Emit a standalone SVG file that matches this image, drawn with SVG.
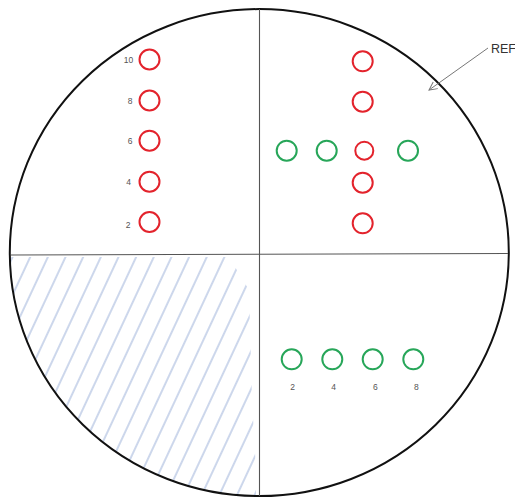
<svg xmlns="http://www.w3.org/2000/svg" width="515" height="498" viewBox="0 0 515 498">
<style>
.red{fill:none;stroke:#e3232c;stroke-width:2}
.grn{fill:none;stroke:#27a659;stroke-width:2}
.lbl{font-family:"Liberation Sans",Arial,sans-serif;font-size:8.5px;fill:#555;text-anchor:middle}
.ax{stroke:#555;stroke-width:1.1;fill:none}
</style>
<defs>
<pattern id="hatch" width="16" height="20" patternUnits="userSpaceOnUse" patternTransform="rotate(25)">
<line x1="8" y1="-5" x2="8" y2="25" stroke="#8fa6d4" stroke-width="0.9"/>
</pattern>
<clipPath id="circ"><ellipse cx="259.3" cy="252.6" rx="249.5" ry="243.5"/></clipPath>
<clipPath id="quad"><path d="M12 257 L229 257 L249 290 L252 400 L256 470 L256 498 L0 498 L0 257 Z"/></clipPath>
<marker id="ah" markerWidth="10" markerHeight="10" refX="9" refY="5" orient="auto" markerUnits="userSpaceOnUse">
<path d="M1 1 L9 5 L1 9" fill="none" stroke="#777" stroke-width="1"/>
</marker>
</defs>
<g id="hatching" clip-path="url(#circ)">
<rect x="0" y="257" width="260" height="241" fill="url(#hatch)" clip-path="url(#quad)"/>
</g>
<g id="outline">
<ellipse cx="259.3" cy="252.6" rx="249.5" ry="243.5" fill="none" stroke="#111" stroke-width="2"/>
<line class="ax" x1="259.5" y1="9" x2="259.5" y2="496"/>
<line class="ax" x1="11" y1="255" x2="508" y2="253.5"/>
</g>
<g id="left-red">
<circle class="red" cx="149.5" cy="59.5" r="10"/>
<circle class="red" cx="149.5" cy="100.5" r="10"/>
<circle class="red" cx="149.5" cy="140.7" r="10"/>
<circle class="red" cx="149.5" cy="181.7" r="10"/>
<circle class="red" cx="149.5" cy="222" r="10"/>
<text class="lbl" x="128.5" y="62.5">10</text>
<text class="lbl" x="130" y="103.5">8</text>
<text class="lbl" x="130" y="144">6</text>
<text class="lbl" x="128.5" y="184.5">4</text>
<text class="lbl" x="128" y="228">2</text>
</g>
<g id="right-cross">
<circle class="red" cx="362.7" cy="61.3" r="10"/>
<circle class="red" cx="362.7" cy="101.7" r="10"/>
<circle class="red" cx="364.3" cy="150.7" r="9"/>
<circle class="red" cx="362.7" cy="182.7" r="10"/>
<circle class="red" cx="362.7" cy="223.3" r="10"/>
<circle class="grn" cx="286.7" cy="150.7" r="10"/>
<circle class="grn" cx="326.7" cy="150.7" r="10"/>
<circle class="grn" cx="408" cy="150.7" r="10"/>
</g>
<g id="bottom-green">
<circle class="grn" cx="291.7" cy="359.3" r="10"/>
<circle class="grn" cx="332.3" cy="359.3" r="10"/>
<circle class="grn" cx="372.7" cy="359.3" r="10"/>
<circle class="grn" cx="413.3" cy="359.3" r="10"/>
<text class="lbl" x="292.7" y="389.5">2</text>
<text class="lbl" x="333.7" y="389.5">4</text>
<text class="lbl" x="375.3" y="389.5">6</text>
<text class="lbl" x="416.3" y="389.5">8</text>
</g>
<g id="connectors">
<line x1="488" y1="48" x2="429" y2="90" stroke="#777" stroke-width="1" marker-end="url(#ah)"/>
</g>
<g id="ref">
<text x="491" y="52.5" font-family="'Liberation Sans',Arial,sans-serif" font-size="12.5" fill="#333">REF</text>
</g>
</svg>
